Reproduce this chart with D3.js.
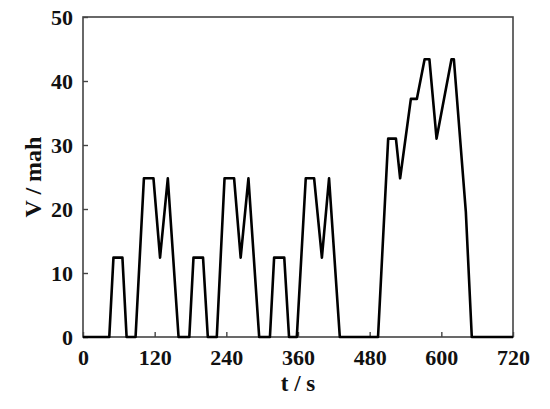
<!DOCTYPE html>
<html>
<head>
<meta charset="utf-8">
<script src="https://cdn.jsdelivr.net/npm/d3@7"></script>
<style>
  body { margin: 0; background: #fff; }
  svg text { font-family: "Liberation Serif", "Times New Roman", serif; font-weight: bold; fill: #111; }
</style>
</head>
<body>
<div class="chart"></div>
<script>
// time (s) and V values
const times = [0, 44, 51, 66, 73, 88, 102, 118, 129, 142, 160,
  178, 185, 201, 209, 224, 237, 253, 264, 277, 295,
  313, 320, 337, 345, 358, 373, 387, 400, 412, 430,
  494, 511, 524, 531, 549, 559, 572, 580, 592, 617, 621, 641, 651, 720];
const values = [0, 0, 12.4, 12.4, 0, 0, 24.8, 24.8, 12.4, 24.8, 0,
  0, 12.4, 12.4, 0, 0, 24.8, 24.8, 12.4, 24.8, 0,
  0, 12.4, 12.4, 0, 0, 24.8, 24.8, 12.4, 24.8, 0,
  0, 31, 31, 24.8, 37.2, 37.2, 43.4, 43.4, 31, 43.4, 43.4, 19.6, 0, 0];
const xTicks = [0, 120, 240, 360, 480, 600, 720];
const yTicks = [0, 10, 20, 30, 40, 50];

const w = 550, h = 409,
  mLeft = 83, mRight = 513, mTop = 17, mBottom = 337;

const svg = d3.select(".chart").append("svg")
  .attr("width", w)
  .attr("height", h);

const x = d3.scaleLinear().domain([0, 720]).range([mLeft, mRight]);
const y = d3.scaleLinear().domain([0, 50]).range([mBottom, mTop]);

// frame
svg.append("rect")
  .attr("x", mLeft).attr("y", mTop)
  .attr("width", mRight - mLeft).attr("height", mBottom - mTop)
  .attr("fill", "none").attr("stroke", "#444").attr("stroke-width", 1.6);

const xAxis = d3.axisBottom(x).tickValues(xTicks).tickSizeInner(-5).tickSizeOuter(0).tickPadding(12);
const yAxis = d3.axisLeft(y).tickValues(yTicks).tickSizeInner(-5).tickSizeOuter(0).tickPadding(10);

const gx = svg.append("g")
  .attr("transform", "translate(0," + mBottom + ")")
  .call(xAxis);
const gy = svg.append("g")
  .attr("transform", "translate(" + mLeft + ",0)")
  .call(yAxis);

[gx, gy].forEach(g => {
  g.select(".domain").remove();
  g.selectAll(".tick line").attr("stroke", "#444").attr("stroke-width", 1.4);
  g.selectAll(".tick text").style("font-size", "22px").attr("fill", "#111");
});
gy.selectAll(".tick text").attr("dy", "0.34em");

// data line
const line = d3.line()
  .x((d, i) => x(times[i]))
  .y(d => y(d));

svg.append("path")
  .datum(values)
  .attr("d", line)
  .attr("fill", "none")
  .attr("stroke", "#000")
  .attr("stroke-width", 2.6)
  .attr("stroke-linejoin", "round");

// axis titles
svg.append("text")
  .attr("x", (mLeft + mRight) / 2)
  .attr("y", 391)
  .attr("text-anchor", "middle")
  .style("font-size", "23px")
  .text("t / s");

svg.append("text")
  .attr("transform", "translate(41,177) rotate(-90)")
  .attr("text-anchor", "middle")
  .style("font-size", "24px")
  .text("V / mah");
</script>
</body>
</html>
